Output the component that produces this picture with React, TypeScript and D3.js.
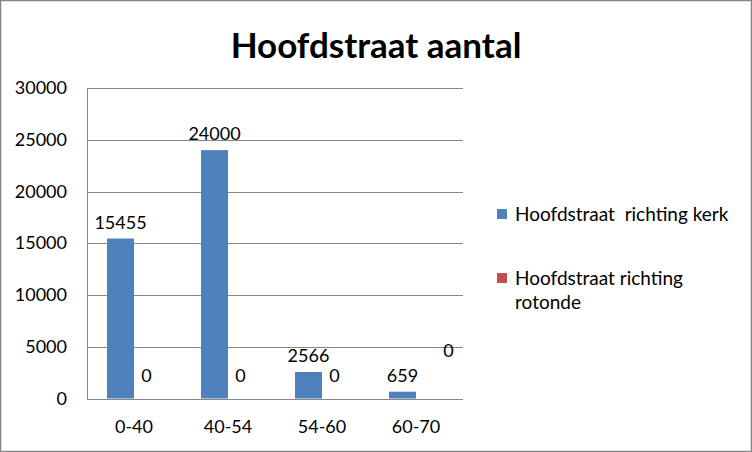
import { useMemo } from "react";
import * as d3 from "d3";

const categories = ["0-40", "40-54", "54-60", "60-70"];
const seriesNames = ["Hoofdstraat  richting kerk", "Hoofdstraat richting rotonde"];
const kerk = [15455, 24000, 2566, 659];
const rotonde = [0, 0, 0, 0];
const yTicks = [0, 5000, 10000, 15000, 20000, 25000, 30000];
const colors = ["#4F81BD", "#C0504D"];

const W = 752;
const H = 452;
const FONT = "Lato, 'Open Sans', sans-serif";

export default function App() {
  const plot = { left: 87, right: 463, top: 88, bottom: 398.5 };

  const x = useMemo(
    () => d3.scaleBand<string>().domain(categories).range([plot.left, plot.right]).padding(0),
    []
  );
  const xInner = useMemo(
    () => d3.scaleBand<number>().domain([0, 1]).range([0, x.bandwidth()]).paddingOuter(0.74).paddingInner(0),
    [x]
  );
  const y = useMemo(
    () => d3.scaleLinear().domain([0, 30000]).range([plot.bottom, plot.top]),
    []
  );

  const series = [kerk, rotonde];

  return (
    <div style={{ position: "absolute", left: 0, top: 0 }}>
      <svg width={W} height={H} style={{ display: "block", fontFamily: FONT }}>
        <rect x={0} y={0} width={W} height={H} fill="#fff" />
        <rect x={0.5} y={0.5} width={W - 1} height={H - 1} fill="none" stroke="#868686" strokeWidth={1.5} />

        <text x={376} y={58} textAnchor="middle" fontSize={35} fontWeight={700} fill="#000">
          Hoofdstraat aantal
        </text>

        {/* gridlines */}
        {yTicks.map((t) => (
          <line key={t} x1={plot.left} x2={plot.right} y1={Math.round(y(t)) + 0.5} y2={Math.round(y(t)) + 0.5} stroke="#868686" strokeWidth={1} />
        ))}
        <line x1={plot.left + 0.5} x2={plot.left + 0.5} y1={plot.top} y2={plot.bottom + 0.5} stroke="#868686" strokeWidth={1} />

        {yTicks.map((t) => (
          <text key={t} x={67} y={y(t) + 6} textAnchor="end" fontSize={18} fill="#000">
            {t}
          </text>
        ))}

        {categories.map((c) => (
          <text key={c} x={(x(c) ?? 0) + x.bandwidth() / 2} y={433} textAnchor="middle" fontSize={18} fill="#000">
            {c}
          </text>
        ))}

        {/* bars */}
        {series.map((vals, si) =>
          vals.map((v, i) => {
            const bx = (x(categories[i]) ?? 0) + (xInner(si) ?? 0);
            return (
              <rect key={`${si}-${i}`} x={bx} y={y(v)} width={xInner.bandwidth()} height={plot.bottom - y(v)} fill={colors[si]} />
            );
          })
        )}

        {/* data labels */}
        {series.map((vals, si) =>
          vals.map((v, i) => {
            const cx = (x(categories[i]) ?? 0) + (xInner(si) ?? 0) + xInner.bandwidth() / 2;
            // Excel pushed the last zero label up and right to avoid the 659 label
            const shifted = si === 1 && i === categories.length - 1;
            const lx = shifted ? cx + 19 : si === 1 ? cx - 1 : cx;
            const ly = shifted ? y(v) - 42 : si === 1 ? y(v) - 17 : y(v) - 10;
            return (
              <text key={`l${si}-${i}`} x={lx} y={ly} textAnchor="middle" fontSize={18} fill="#000">
                {v}
              </text>
            );
          })
        )}

        {/* legend */}
        <rect x={497} y={209} width={10} height={10} fill={colors[0]} />
        <text x={515} y={221} fontSize={19} fill="#000" style={{ whiteSpace: "pre" }}>
          {seriesNames[0]}
        </text>
        <rect x={497} y={273} width={10} height={10} fill={colors[1]} />
        <text x={515} y={285} fontSize={19} fill="#000">
          <tspan x={515}>Hoofdstraat richting</tspan>
          <tspan x={515} dy={24}>rotonde</tspan>
        </text>
      </svg>
    </div>
  );
}
